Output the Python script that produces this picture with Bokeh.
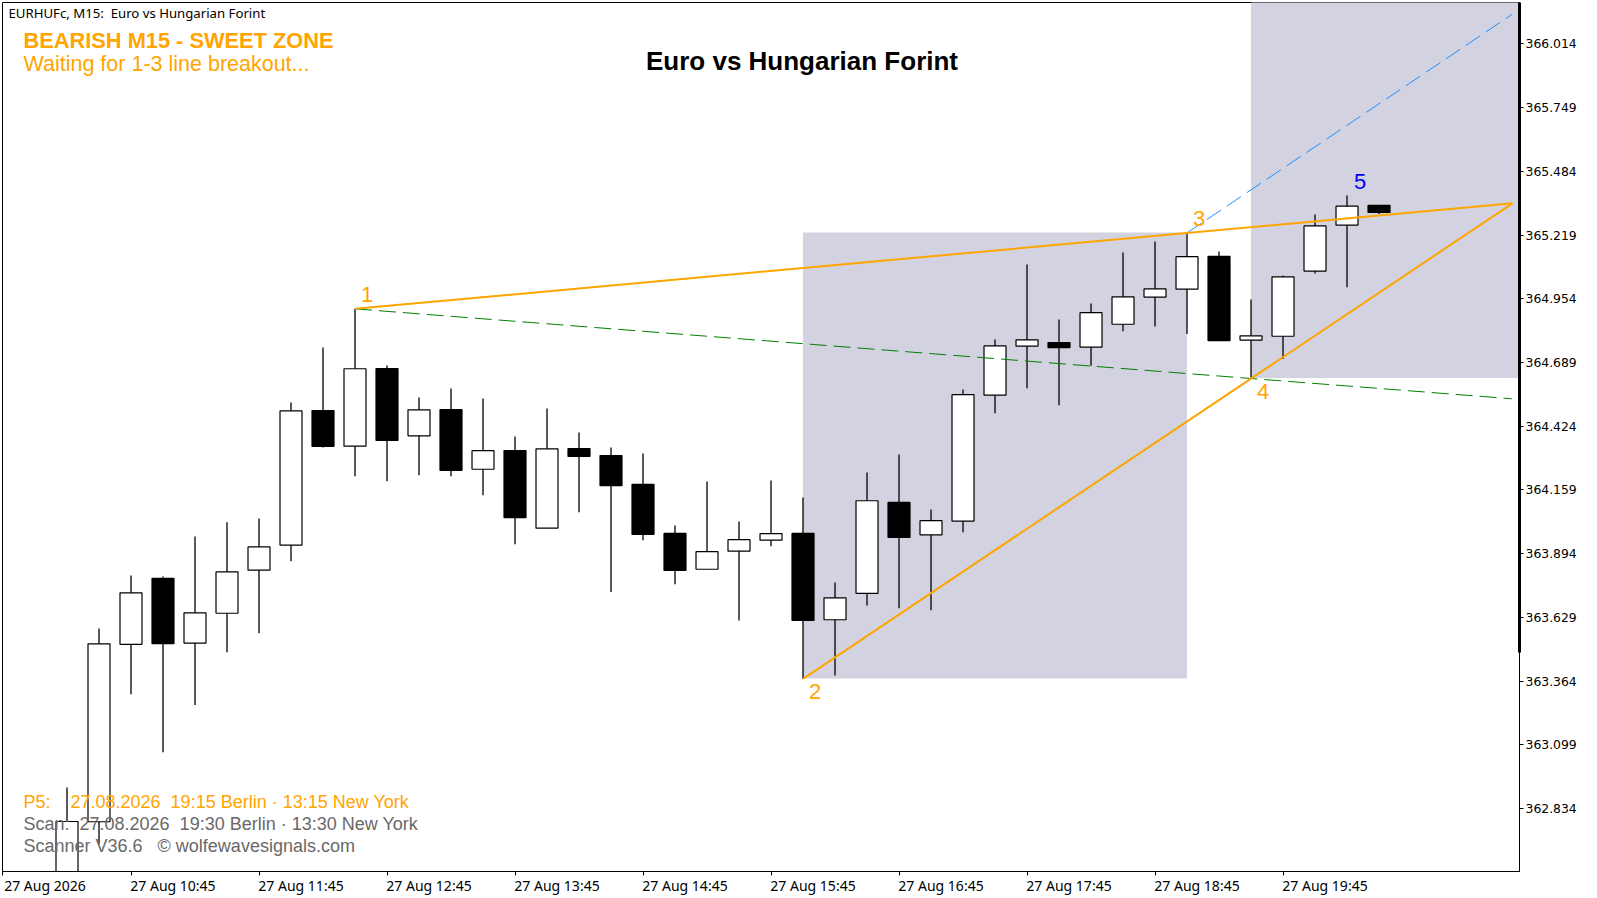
from bokeh.plotting import figure
from bokeh.models import ColumnDataSource, LinearAxis, FixedTicker, NumeralTickFormatter, Label, Range1d
from bokeh.core.properties import value
from bokeh.embed import file_html
from bokeh.resources import INLINE

# Candle data (bar 0 = first visible bar, M15)
opens = [362.451,362.779,363.517,363.791,363.522,363.646,363.825,363.929,364.489,364.341,
         364.664,364.384,364.493,364.245,364.323,364.000,364.331,364.302,364.182,363.978,
         363.829,363.904,363.950,363.978,363.619,363.729,364.107,363.972,364.029,364.553,
         364.757,364.772,364.753,364.848,364.961,364.994,365.130,364.782,364.798,365.069,
         365.260,365.342]
highs = [362.921,363.583,363.803,363.799,363.965,364.024,364.040,364.523,364.751,364.912,
         364.676,364.543,364.581,364.539,364.381,364.498,364.398,364.335,364.310,364.011,
         364.194,364.028,364.198,364.127,363.774,364.231,364.306,364.078,364.577,364.785,
         365.096,364.868,364.934,365.146,365.192,365.228,365.151,364.951,365.051,365.304,
         365.383,365.342]
lows = [362.431,362.687,363.309,363.068,363.264,363.484,363.563,363.862,364.335,364.216,
        364.195,364.220,364.216,364.137,363.933,364.000,364.066,363.734,363.950,363.767,
        363.829,363.616,363.925,363.373,363.387,363.678,363.667,363.658,363.983,364.478,
        364.582,364.511,364.675,364.819,364.839,364.807,364.780,364.625,364.703,365.059,
        365.002,365.306]
closes = [362.780,363.519,363.731,363.520,363.648,363.818,363.922,364.488,364.340,364.663,
          364.365,364.492,364.240,364.322,364.044,364.330,364.298,364.177,363.974,363.824,
          363.902,363.952,363.977,363.616,363.710,364.114,363.961,364.031,364.555,364.758,
          364.783,364.751,364.896,364.962,364.995,365.129,364.780,364.800,365.045,365.257,
          365.339,365.313]

price_ticks = [362.834,363.099,363.364,363.629,363.894,364.159,364.424,364.689,364.954,365.219,365.484,365.749,366.014]
time_tick_bars = [-2,2,6,10,14,18,22,26,30,34,38]
time_tick_labels = ["27 Aug 2026","27 Aug 10:45","27 Aug 11:45","27 Aug 12:45","27 Aug 13:45","27 Aug 14:45",
                    "27 Aug 15:45","27 Aug 16:45","27 Aug 17:45","27 Aug 18:45","27 Aug 19:45"]

# Wolfe wave pivots
wave_labels = ["1","2","3","4","5"]
wave_bars = [9,23,35,37,40]
wave_prices = [364.912,363.373,365.228,364.625,365.383]
wave_colors = ["#FFA500","#FFA500","#FFA500","#FFA500","#0000FF"]
wave_dx = [6,6,6,6,7]
wave_dy = [-14,13,-14,14,-14]

line_13_x, line_13_y = [9,45.17],[364.912,365.351]
line_24_x, line_24_y = [23,45.17],[363.373,365.351]
line_14_x, line_14_y = [9,45.15],[364.912,364.538]
line_35_x, line_35_y = [35,45.15],[365.228,366.136]

zone_left = [23,37]
zone_right = [35,46]
zone_top = [365.230,366.3]
zone_bottom = [363.375,364.624]

thick_scale_bottom = 363.483

X0, X1 = -2.0156, 45.39
Y0, Y1 = 362.572, 366.1861

p = figure(width=1597, height=898, output_backend="svg", toolbar_location=None,
           x_range=Range1d(X0, X1), y_range=Range1d(Y0, Y1), x_axis_location=None, y_axis_location=None,
           min_border_left=2, min_border_top=2, min_border_right=78, min_border_bottom=27,
           background_fill_color="white", border_fill_color="white")
p.grid.visible = False
p.outline_line_color = "black"
p.outline_line_width = 1

# thick part of the price scale: an inner axis with no ticks
thick = LinearAxis(ticker=FixedTicker(ticks=[]), bounds=(thick_scale_bottom, Y1))
thick.axis_line_color = "black"
thick.axis_line_width = 3
thick.major_tick_in = 0
thick.major_tick_out = 0
thick.major_tick_line_color = None
thick.minor_tick_line_color = None
thick.major_label_standoff = 0
thick.major_label_text_font_size = "0px"
p.add_layout(thick, "right")

ya = LinearAxis(ticker=FixedTicker(ticks=price_ticks), formatter=NumeralTickFormatter(format="0.000"))
ya.axis_line_color = "black"
ya.major_tick_line_color = "black"
ya.major_tick_in = 0
ya.major_tick_out = 4
ya.minor_tick_line_color = None
ya.major_label_standoff = 2
ya.major_label_text_font = "DejaVu Sans"
ya.major_label_text_font_size = "12.4px"
ya.major_label_text_color = "black"
p.add_layout(ya, "right")

# tick marks
xa = LinearAxis(ticker=FixedTicker(ticks=time_tick_bars))
xa.major_label_overrides = {b: "" for b in time_tick_bars}
xa.major_label_text_font_size = "0px"
xa.major_label_standoff = 0
xa.axis_line_color = "black"
xa.major_tick_line_color = "black"
xa.major_tick_in = 0
xa.major_tick_out = 4
xa.minor_tick_line_color = None
p.add_layout(xa, "below")

# tick labels: centred half a label to the right of each tick, so they start at the tick
half_label = 1.3125
label_pos = [b + half_label for b in time_tick_bars]
xl = LinearAxis(ticker=FixedTicker(ticks=label_pos))
xl.major_label_overrides = dict(zip(label_pos, time_tick_labels))
xl.axis_line_color = None
xl.major_tick_line_color = None
xl.major_tick_in = 0
xl.major_tick_out = 0
xl.minor_tick_line_color = None
xl.major_label_standoff = 0
xl.major_label_text_font = "Noto Sans"
xl.major_label_text_font_size = "14px"
xl.major_label_text_color = "black"
p.add_layout(xl, "below")

p.quad(left=zone_left, right=zone_right, top=zone_top, bottom=zone_bottom,
       fill_color="#D2D2E0", line_color=None)

bars = list(range(len(opens)))
src = ColumnDataSource(dict(
    x=bars, o=opens, h=highs, l=lows, c=closes,
    fill=["black" if c < o else "white" for o, c in zip(opens, closes)]))
p.segment("x", "l", "x", "h", source=src, line_color="black", line_width=1.3)
p.vbar(x="x", top="o", bottom="c", width=0.6875, source=src, fill_color="fill", line_color="black", line_width=1.2)

p.line(line_14_x, line_14_y, line_color="#008000", line_width=1, line_dash="17 7")
p.line(line_35_x, line_35_y, line_color="#1E90FF", line_width=1, line_dash="17 7")
p.line(line_13_x, line_13_y, line_color="#FFA500", line_width=2)
p.line(line_24_x, line_24_y, line_color="#FFA500", line_width=2)

wsrc = ColumnDataSource(dict(x=wave_bars, y=wave_prices, t=wave_labels, c=wave_colors, dx=wave_dx, dy=wave_dy))
p.text("x", "y", text="t", source=wsrc, x_offset="dx", y_offset="dy", text_color="c",
       text_font=value("Liberation Sans"), text_font_size=value("22px"), text_baseline="alphabetic", text_align="left")

H = 871
def lbl(text, x, y, font, size, color, bold=False, align="left"):
    p.add_layout(Label(x=x, y=H - y, x_units="screen", y_units="screen", text=text, text_font=font,
                       text_font_size=size, text_color=color, text_font_style="bold" if bold else "normal",
                       text_align=align, text_baseline="alphabetic"))

lbl("EURHUFc, M15:\u00a0\u00a0Euro vs Hungarian Forint", 6, 12, "Noto Sans", "13.2px", "black")
lbl("BEARISH M15 - SWEET ZONE", 21, 40, "Liberation Sans", "21.8px", "#FFA500", bold=True)
lbl("Waiting for 1-3 line breakout...", 21, 63, "Liberation Sans", "21.5px", "#FFA500")
lbl("Euro vs Hungarian Forint", 799.5, 60, "Liberation Sans", "26px", "black", bold=True, align="center")
lbl("P5:\u00a0\u00a0\u00a0\u00a027.08.2026\u00a0\u00a019:15 Berlin · 13:15 New York", 21, 801, "Liberation Sans", "18px", "#FFA500")
lbl("Scan:\u00a0\u00a027.08.2026\u00a0\u00a019:30 Berlin · 13:30 New York", 21, 823, "Liberation Sans", "18px", "#696969")
lbl("Scanner V36.6\u00a0\u00a0\u00a0© wolfewavesignals.com", 21, 845, "Liberation Sans", "18px", "#696969")

open("out.html", "w").write(file_html(p, INLINE))
